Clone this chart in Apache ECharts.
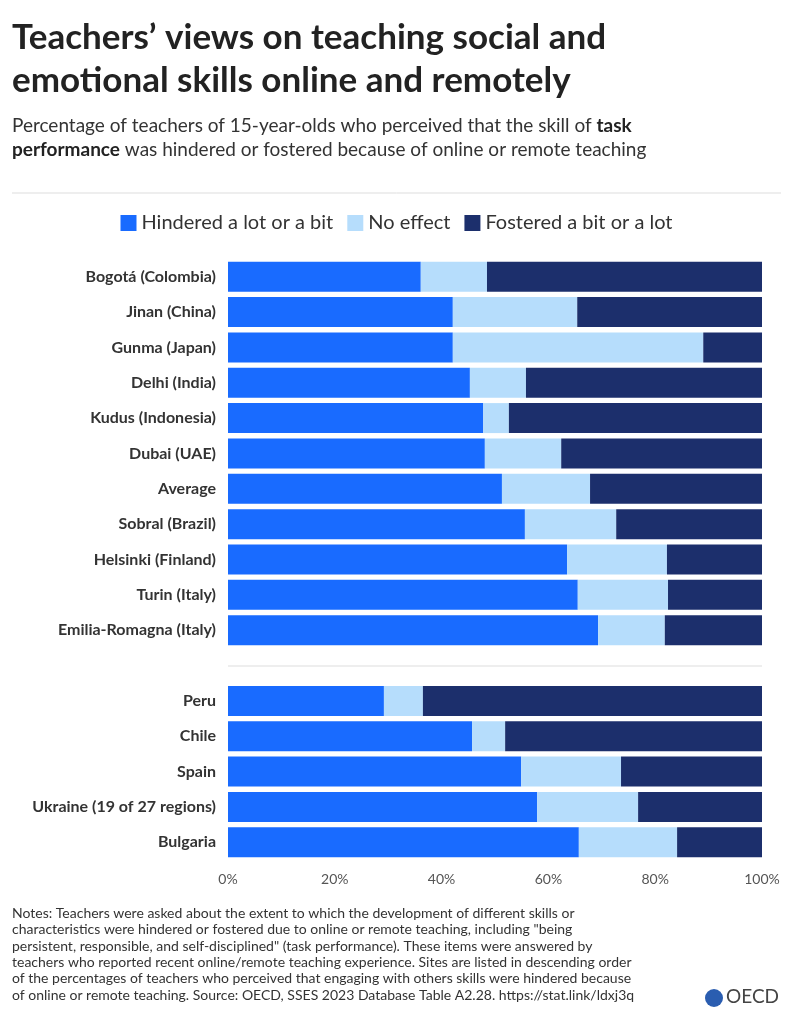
<!DOCTYPE html>
<html>
<head>
<meta charset="utf-8">
<script src="https://cdn.jsdelivr.net/npm/echarts@6/dist/echarts.min.js"></script>
<style>
  html, body { margin: 0; padding: 0; background: #fff; }
  #chart { width: 793px; height: 1028px; }
</style>
</head>
<body>
<div id="chart"></div>
<script>
var categories = ['Bogotá (Colombia)', 'Jinan (China)', 'Gunma (Japan)', 'Delhi (India)', 'Kudus (Indonesia)',
    'Dubai (UAE)', 'Average', 'Sobral (Brazil)', 'Helsinki (Finland)', 'Turin (Italy)', 'Emilia-Romagna (Italy)',
    '', 'Peru', 'Chile', 'Spain', 'Ukraine (19 of 27 regions)', 'Bulgaria'];
var hindered = [36.1, 42.1, 42.1, 45.3, 47.8, 48.1, 51.3, 55.6, 63.5, 65.5, 69.3, null, 29.2, 45.7, 54.9, 57.9, 65.7];
var noEffect = [12.4, 23.3, 46.9, 10.5, 4.8, 14.3, 16.5, 17.1, 18.7, 16.9, 12.5, null, 7.3, 6.2, 18.7, 18.9, 18.4];
var fostered = [51.5, 34.6, 11.0, 44.2, 47.4, 37.6, 32.2, 27.3, 17.8, 17.6, 18.2, null, 63.5, 48.1, 26.4, 23.2, 15.9];
var xTicks = [0, 20, 40, 60, 80, 100];

var font = 'Source Sans Pro, Lato, sans-serif';
var notes = 'Notes: Teachers were asked about the extent to which the development of different skills or\n' +
    'characteristics were hindered or fostered due to online or remote teaching, including "being\n' +
    'persistent, responsible, and self-disciplined" (task performance). These items were answered by\n' +
    'teachers who reported recent online/remote teaching experience. Sites are listed in descending order\n' +
    'of the percentages of teachers who perceived that engaging with others skills were hindered because\n' +
    'of online or remote teaching. Source: OECD, SSES 2023 Database Table A2.28. https://stat.link/ldxj3q';

function bar(name, data, color) {
    return {
        name: name, type: 'bar', stack: 'all', data: data, barWidth: 30,
        itemStyle: { color: color }, emphasis: { disabled: true }
    };
}

var option = {
    animation: false,
    textStyle: { fontFamily: font },
    legend: {
        top: 208, left: 'center', itemWidth: 16, itemHeight: 16, itemGap: 14,
        icon: 'rect',
        textStyle: { fontSize: 20, color: '#333', fontFamily: font },
        data: ['Hindered a lot or a bit', 'No effect', 'Fostered a bit or a lot']
    },
    grid: { left: 228, right: 31, top: 259, height: 601, containLabel: false },
    xAxis: {
        type: 'value', min: 0, max: 100, interval: 20,
        axisLine: { show: false }, axisTick: { show: false }, splitLine: { show: false },
        axisLabel: {
            color: '#555', fontSize: 14, margin: 12,
            formatter: function(v) { return xTicks.indexOf(v) >= 0 ? v + '%' : ''; }
        }
    },
    yAxis: {
        type: 'category', inverse: true, data: categories,
        axisLine: { show: false }, axisTick: { show: false },
        axisLabel: { color: '#333', fontSize: 16, fontWeight: 'bold', margin: 12 }
    },
    series: [
        bar('Hindered a lot or a bit', hindered, '#196bff'),
        bar('No effect', noEffect, '#b6ddfc'),
        bar('Fostered a bit or a lot', fostered, '#1c2f6c')
    ],
    graphic: [
        { type: 'text', left: 12, top: 16, style: { text: 'Teachers\u2019 views on teaching social and\nemotional skills online and remotely',
            font: 'bold 35px ' + font, fill: '#222', lineHeight: 43 } },
        { type: 'text', left: 12, top: 114, style: {
            text: 'Percentage of teachers of 15-year-olds who perceived that the skill of {b|task}\n{b|performance} was hindered or fostered because of online or remote teaching',
            font: '19px ' + font, fill: '#333', lineHeight: 24,
            rich: { b: { fontWeight: 'bold', fontSize: 19, fontFamily: font, fill: '#222' } } } },
        { type: 'line', shape: { x1: 12, y1: 193, x2: 781, y2: 193 }, style: { stroke: '#ddd', lineWidth: 1 } },
        { type: 'line', shape: { x1: 228, y1: 666, x2: 762, y2: 666 }, style: { stroke: '#ddd', lineWidth: 1 } },
        { type: 'text', left: 12, top: 905, style: { text: notes, font: '14px ' + font, fill: '#333', lineHeight: 16.4 } },
        { type: 'circle', shape: { cx: 714, cy: 998, r: 9 }, style: { fill: '#2a5db0' } },
        { type: 'text', left: 726, top: 987, style: { text: 'OECD', font: '19px ' + font, fill: '#444' } }
    ]
};

echarts.init(document.getElementById('chart')).setOption(option);
</script>
</body>
</html>
